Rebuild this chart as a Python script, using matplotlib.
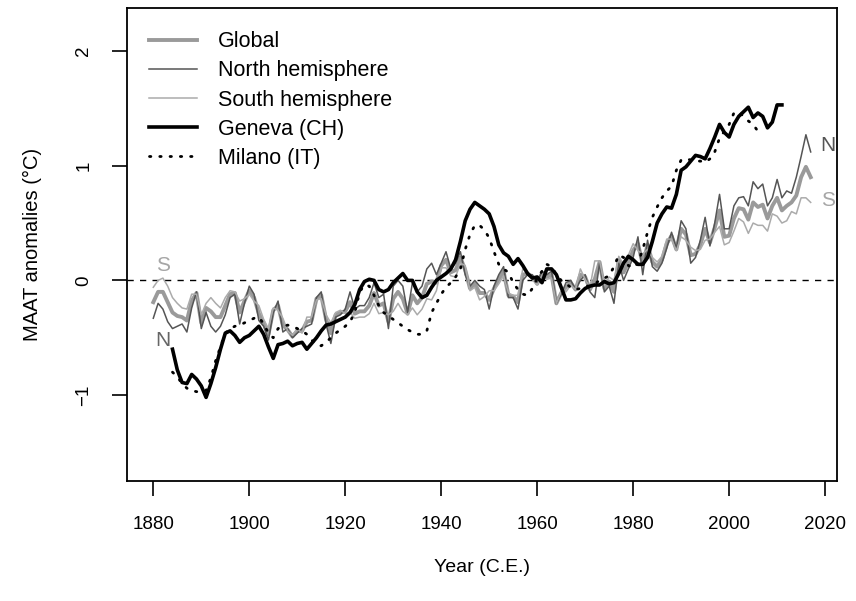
import numpy as np
import matplotlib
matplotlib.use("Agg")
import matplotlib.pyplot as plt
from matplotlib.lines import Line2D

plt.rcParams['font.family'] = ['Liberation Sans', 'DejaVu Sans']

# --- annual anomalies (deg C), 1880-2017 ---
years = np.arange(1880, 2018)

glob = [-0.19, -0.10, -0.10, -0.19, -0.28, -0.31, -0.32, -0.35, -0.18, -0.11,
        -0.37, -0.24, -0.27, -0.32, -0.32, -0.22, -0.12, -0.11, -0.28, -0.18,
        -0.09, -0.15, -0.29, -0.37, -0.47, -0.26, -0.22, -0.39, -0.43, -0.49,
        -0.44, -0.44, -0.36, -0.35, -0.16, -0.13, -0.34, -0.46, -0.30, -0.28,
        -0.27, -0.19, -0.29, -0.27, -0.27, -0.22, -0.11, -0.22, -0.20, -0.36,
        -0.16, -0.10, -0.16, -0.29, -0.13, -0.20, -0.15, -0.03, -0.01, -0.02,
        0.13, 0.18, 0.07, 0.09, 0.20, 0.09, -0.07, -0.03, -0.11, -0.11,
        -0.17, -0.07, 0.01, 0.08, -0.13, -0.14, -0.19, 0.05, 0.06, 0.03,
        -0.03, 0.06, 0.03, 0.05, -0.20, -0.11, -0.06, -0.02, -0.08, 0.05,
        0.03, -0.08, 0.01, 0.16, -0.07, -0.01, -0.10, 0.18, 0.07, 0.16,
        0.26, 0.32, 0.14, 0.31, 0.16, 0.12, 0.18, 0.32, 0.39, 0.27,
        0.45, 0.40, 0.22, 0.23, 0.31, 0.45, 0.33, 0.46, 0.61, 0.38,
        0.39, 0.54, 0.63, 0.62, 0.53, 0.68, 0.64, 0.66, 0.54, 0.65,
        0.72, 0.61, 0.65, 0.68, 0.74, 0.90, 0.99, 0.90]

north = [-0.33, -0.20, -0.25, -0.36, -0.42, -0.40, -0.38, -0.45, -0.24, -0.10,
         -0.42, -0.28, -0.40, -0.45, -0.40, -0.30, -0.15, -0.12, -0.38, -0.20,
         -0.05, -0.12, -0.35, -0.40, -0.52, -0.28, -0.18, -0.45, -0.42, -0.50,
         -0.46, -0.42, -0.40, -0.38, -0.15, -0.10, -0.38, -0.55, -0.32, -0.30,
         -0.25, -0.10, -0.25, -0.22, -0.22, -0.15, -0.02, -0.15, -0.12, -0.42,
         -0.05, 0.00, -0.05, -0.28, -0.02, -0.10, -0.05, 0.10, 0.15, 0.05,
         0.15, 0.25, 0.10, 0.15, 0.25, 0.05, -0.05, 0.00, -0.05, -0.08,
         -0.25, -0.05, 0.05, 0.12, -0.15, -0.15, -0.25, 0.00, 0.05, 0.05,
         -0.02, 0.08, 0.05, 0.08, -0.20, -0.12, -0.02, 0.00, -0.08, 0.00,
         0.05, -0.10, -0.15, 0.15, -0.10, -0.05, -0.20, 0.15, 0.00, 0.10,
         0.20, 0.38, 0.05, 0.35, 0.12, 0.08, 0.15, 0.28, 0.42, 0.28,
         0.52, 0.45, 0.15, 0.20, 0.35, 0.55, 0.30, 0.50, 0.75, 0.45,
         0.45, 0.65, 0.72, 0.73, 0.65, 0.86, 0.80, 0.84, 0.65, 0.72,
         0.88, 0.72, 0.78, 0.76, 0.90, 1.08, 1.27, 1.12]

south = [-0.06, 0.00, 0.02, -0.05, -0.15, -0.20, -0.24, -0.25, -0.12, -0.12,
         -0.30, -0.20, -0.15, -0.20, -0.24, -0.15, -0.09, -0.10, -0.18, -0.16,
         -0.12, -0.18, -0.22, -0.34, -0.42, -0.24, -0.26, -0.33, -0.44, -0.48,
         -0.42, -0.46, -0.32, -0.32, -0.17, -0.16, -0.30, -0.37, -0.28, -0.26,
         -0.29, -0.28, -0.33, -0.32, -0.32, -0.29, -0.20, -0.29, -0.28, -0.30,
         -0.27, -0.20, -0.27, -0.30, -0.24, -0.30, -0.25, -0.16, -0.17, -0.09,
         0.11, 0.11, 0.04, 0.03, 0.15, 0.13, -0.09, -0.06, -0.17, -0.14,
         -0.09, -0.09, -0.03, 0.04, -0.11, -0.13, -0.13, 0.10, 0.07, 0.01,
         -0.04, 0.04, 0.01, 0.02, -0.20, -0.10, -0.10, -0.04, -0.08, 0.10,
         0.01, -0.06, 0.17, 0.17, -0.04, 0.03, 0.00, 0.21, 0.14, 0.22,
         0.32, 0.26, 0.23, 0.27, 0.20, 0.16, 0.21, 0.36, 0.36, 0.26,
         0.38, 0.35, 0.29, 0.26, 0.27, 0.35, 0.36, 0.42, 0.47, 0.31,
         0.33, 0.43, 0.54, 0.51, 0.41, 0.50, 0.48, 0.48, 0.43, 0.58,
         0.56, 0.50, 0.52, 0.60, 0.58, 0.72, 0.72, 0.68]

# --- station series, smoothed ---
geneva_years = np.arange(1884, 2012)
geneva = [-0.60, -0.78, -0.89, -0.90, -0.82, -0.86, -0.92, -1.02, -0.90, -0.76,
          -0.60, -0.46, -0.44, -0.48, -0.54, -0.50, -0.48, -0.44, -0.40, -0.47,
          -0.58, -0.68, -0.56, -0.55, -0.53, -0.57, -0.55, -0.54, -0.60, -0.55,
          -0.50, -0.44, -0.39, -0.38, -0.36, -0.34, -0.32, -0.28, -0.21, -0.08,
          -0.01, 0.01, 0.00, -0.08, -0.10, -0.08, -0.02, 0.02, 0.06, 0.00,
          0.00, -0.10, -0.15, -0.13, -0.06, 0.00, 0.03, 0.06, 0.10, 0.18,
          0.34, 0.52, 0.62, 0.68, 0.65, 0.62, 0.58, 0.47, 0.31, 0.24,
          0.21, 0.14, 0.19, 0.13, 0.06, 0.02, 0.03, -0.02, 0.10, 0.10,
          0.05, -0.06, -0.17, -0.17, -0.16, -0.11, -0.07, -0.05, -0.04, -0.04,
          -0.01, -0.03, -0.02, 0.06, 0.15, 0.21, 0.18, 0.14, 0.14, 0.20,
          0.34, 0.50, 0.58, 0.64, 0.63, 0.75, 0.96, 0.99, 1.04, 1.09,
          1.08, 1.06, 1.15, 1.25, 1.36, 1.29, 1.25, 1.36, 1.43, 1.47,
          1.51, 1.42, 1.46, 1.43, 1.33, 1.38, 1.53, 1.53]

milano_years = np.arange(1884, 2007)
milano = [-0.80, -0.84, -0.90, -0.94, -0.96, -0.97, -0.97, -0.96, -0.85, -0.70,
          -0.58, -0.46, -0.42, -0.40, -0.39, -0.37, -0.35, -0.33, -0.32, -0.38,
          -0.46, -0.50, -0.42, -0.40, -0.39, -0.40, -0.42, -0.44, -0.47, -0.52,
          -0.56, -0.57, -0.54, -0.50, -0.46, -0.43, -0.40, -0.36, -0.28, -0.10,
          -0.04, -0.05, -0.13, -0.22, -0.28, -0.31, -0.34, -0.37, -0.40, -0.43,
          -0.45, -0.47, -0.47, -0.44, -0.28, -0.20, -0.12, -0.06, -0.02, 0.03,
          0.10, 0.27, 0.40, 0.48, 0.48, 0.44, 0.37, 0.25, 0.14, 0.10,
          0.07, -0.02, -0.08, -0.12, -0.13, -0.07, 0.02, 0.08, 0.14, 0.12,
          0.05, 0.00, -0.03, -0.06, -0.08, -0.07, -0.05, -0.05, -0.03, 0.00,
          0.02, 0.04, 0.12, 0.22, 0.20, 0.13, 0.11, 0.15, 0.27, 0.42,
          0.55, 0.64, 0.72, 0.78, 0.82, 0.96, 1.05, 1.06, 1.05, 1.04,
          1.04, 1.03, 1.06, 1.12, 1.24, 1.30, 1.36, 1.46, 1.47, 1.43,
          1.39, 1.36, 1.30]

col_glob = '#9a9a9a'
col_north = '#555555'
col_south = '#ababab'
dots = (0, (0.5, 3.2))

fig = plt.figure(figsize=(8.56, 6.01), dpi=100)
ax = fig.add_axes([127 / 856, 1 - 481 / 601, 710 / 856, 473 / 601])

ax.axhline(0, color='black', lw=1.0, ls=(0, (4.5, 4.5)), zorder=1)
ax.plot(years, glob, color=col_glob, lw=2.8, zorder=2)
ax.plot(years, north, color=col_north, lw=1.1, zorder=3)
ax.plot(years, south, color=col_south, lw=1.1, zorder=3)
ax.plot(geneva_years, geneva, color='black', lw=2.6, zorder=4)
ax.plot(milano_years, milano, color='black', lw=2.0, ls=dots,
        dash_capstyle='round', zorder=5)

# hemisphere tags
ax.text(1882.0, 0.13, 'S', color='#a6a6a6', fontsize=15, ha='center', va='center')
ax.text(1882.0, -0.52, 'N', color='#666666', fontsize=15, ha='center', va='center')
ax.text(2020.6, 1.18, 'N', color=col_north, fontsize=15, ha='center', va='center')
ax.text(2020.6, 0.70, 'S', color='#a6a6a6', fontsize=15, ha='center', va='center')

ax.set_xlim(1874.52, 2022.48)
ax.set_ylim(-1.749, 2.375)
ax.set_xticks(np.arange(1880, 2021, 20))
ax.set_yticks([-1, 0, 1, 2])
ax.set_yticklabels(['\u22121', '0', '1', '2'], rotation=90, va='center')
ax.tick_params(direction='out', length=11, width=1.2, labelsize=13.5)
ax.tick_params(axis='x', pad=14)
ax.tick_params(axis='y', pad=14)
for s in ax.spines.values():
    s.set_linewidth(1.3)

ax.set_xlabel('Year (C.E.)', fontsize=14, labelpad=19)
ax.set_ylabel('MAAT anomalies (\u00b0C)', fontsize=14.5, labelpad=24)

handles = [Line2D([], [], color=col_glob, lw=2.8),
           Line2D([], [], color=col_north, lw=1.1),
           Line2D([], [], color=col_south, lw=1.1),
           Line2D([], [], color='black', lw=2.6),
           Line2D([], [], color='black', lw=2.0, ls=dots,
                  dash_capstyle='round')]
labels = ['Global', 'North hemisphere', 'South hemisphere', 'Geneva (CH)', 'Milano (IT)']
ax.legend(handles, labels, loc='upper left', frameon=False, fontsize=15.5,
          handlelength=2.25, handletextpad=0.95, labelspacing=0.38,
          borderaxespad=0.0, borderpad=0.0, bbox_to_anchor=(0.031, 0.951))

fig.savefig('out.png', dpi=100)
